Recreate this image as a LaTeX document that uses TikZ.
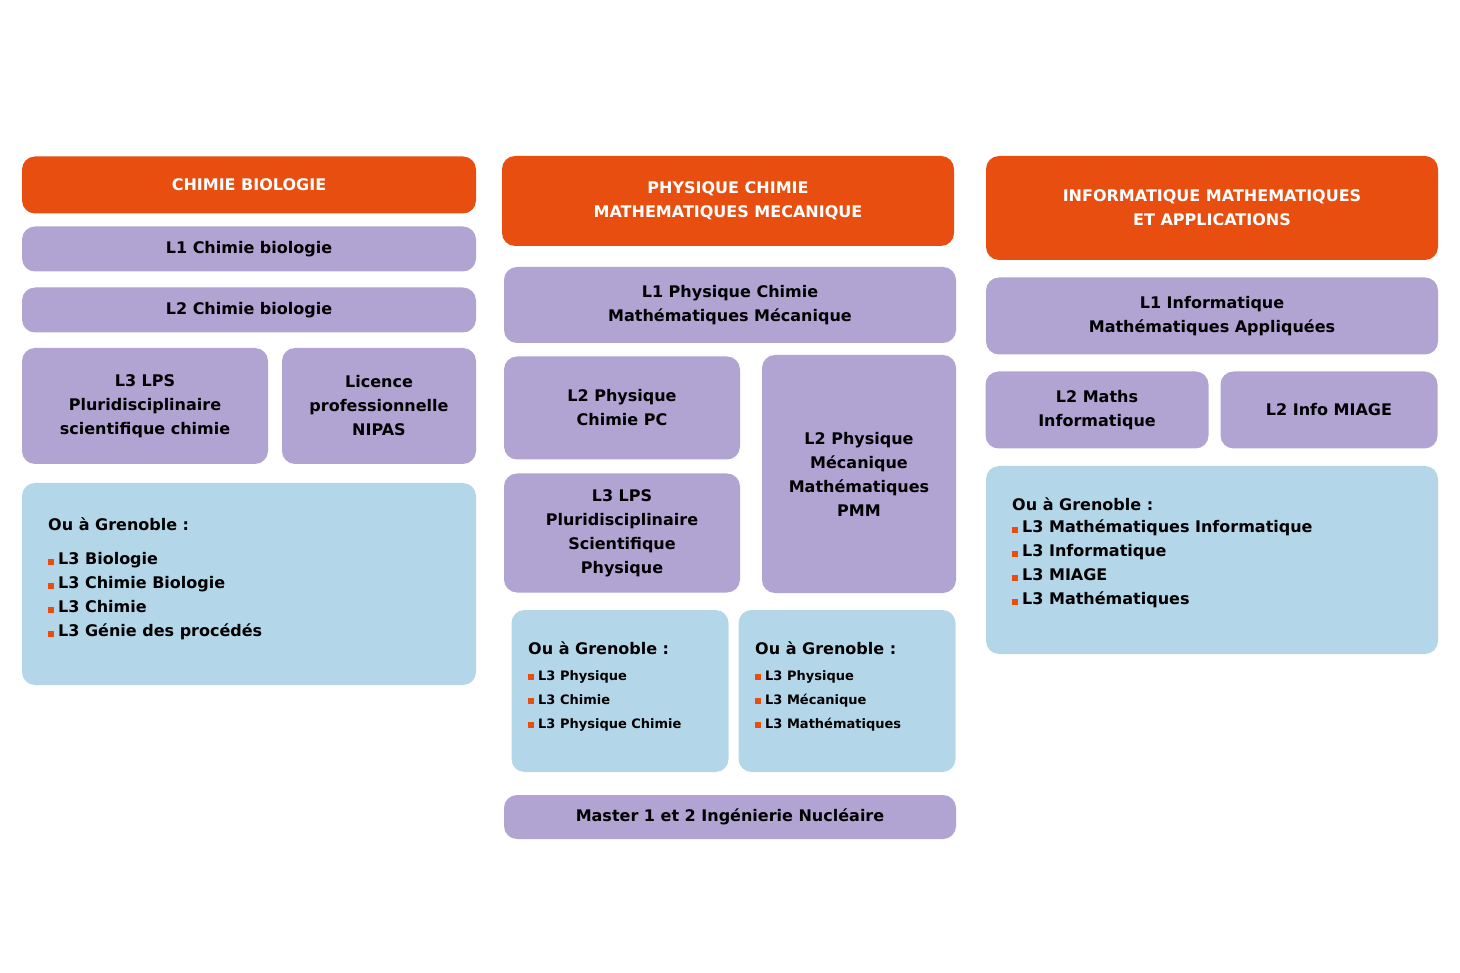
\documentclass[tikz,border=0pt]{standalone}
\usepackage{fontspec}
\setmainfont{DejaVu Sans}
\definecolor{orng}{HTML}{E84E10}
\definecolor{prpl}{HTML}{B1A3D2}
\definecolor{blu}{HTML}{B3D6E8}
\newcommand{\bul}{{\color{orng}\rule{6pt}{6pt}}\hspace{4pt}}
\begin{document}
\begin{tikzpicture}[x=1pt,y=-1pt,font=\bfseries\fontsize{16}{24}\selectfont,
  box/.style={rounded corners=13pt,align=center,inner sep=0pt},
  head/.style={box,fill=orng,text=white},
  lvl/.style={box,fill=prpl,text=black},
  other/.style={box,fill=blu},
  list/.style={anchor=north west,align=left,inner sep=0pt},
  small/.style={list,font=\bfseries\fontsize{13}{24}\selectfont}]
  \useasboundingbox (0,0) rectangle (1460,973);

  % chimie biologie
  \node[head,minimum width=454,minimum height=57] (cb) at (249,185) {CHIMIE BIOLOGIE};
  \node[lvl,minimum width=454,minimum height=45] (cbA) at (249,249) {L1 Chimie biologie};
  \node[lvl,minimum width=454,minimum height=45] (cbB) at (249,310) {L2 Chimie biologie};
  \node[lvl,minimum width=246,minimum height=116] (cbC) at (145,406) {L3 LPS\\Pluridisciplinaire\\scientifique chimie};
  \node[lvl,minimum width=194,minimum height=116] (cbD) at (379,406) {Licence\\professionnelle\\NIPAS};
  \node[other,minimum width=454,minimum height=202] (cbE) at (249,584) {};
  \node[list] (cbL) at (48,518) {Ou à Grenoble :\\[10pt]
    \bul L3 Biologie\\ \bul L3 Chimie Biologie\\ \bul L3 Chimie\\ \bul L3 Génie des procédés};

  % physique chimie
  \node[head,minimum width=452,minimum height=90] (pc) at (728,201) {PHYSIQUE CHIMIE\\MATHEMATIQUES MECANIQUE};
  \node[lvl,minimum width=452,minimum height=76] (pcA) at (730,305) {L1 Physique Chimie\\Mathématiques Mécanique};
  \node[lvl,minimum width=236,minimum height=103] (pcB) at (622,408) {L2 Physique\\Chimie PC};
  \node[lvl,minimum width=194,minimum height=238] (pcC) at (859,474) {L2 Physique\\Mécanique\\Mathématiques\\PMM};
  \node[lvl,minimum width=236,minimum height=119] (pcD) at (622,533) {L3 LPS\\Pluridisciplinaire\\Scientifique\\Physique};
  \node[other,minimum width=217,minimum height=162] (pcE) at (620,691) {};
  \node[other,minimum width=217,minimum height=162] (pcF) at (847,691) {};
  \node[list] (pcL) at (528,642) {Ou à Grenoble :};
  \node[small] (pcM) at (528,670) {\bul L3 Physique\\ \bul L3 Chimie\\ \bul L3 Physique Chimie};
  \node[list] (pcN) at (755,642) {Ou à Grenoble :};
  \node[small] (pcO) at (755,670) {\bul L3 Physique\\ \bul L3 Mécanique\\ \bul L3 Mathématiques};
  \node[lvl,minimum width=452,minimum height=44] (pcG) at (730,817) {Master 1 et 2 Ingénierie Nucléaire};

  % informatique
  \node[head,minimum width=452,minimum height=104] (im) at (1212,208) {INFORMATIQUE MATHEMATIQUES\\ET APPLICATIONS};
  \node[lvl,minimum width=452,minimum height=77] (imA) at (1212,316) {L1 Informatique\\Mathématiques Appliquées};
  \node[lvl,minimum width=223,minimum height=77] (imB) at (1097,410) {L2 Maths\\Informatique};
  \node[lvl,minimum width=217,minimum height=77] (imC) at (1329,410) {L2 Info MIAGE};
  \node[other,minimum width=452,minimum height=188] (imD) at (1212,560) {};
  \node[list] (imL) at (1012,498) {Ou à Grenoble :\\[-2pt]
    \bul L3 Mathématiques Informatique\\ \bul L3 Informatique\\ \bul L3 MIAGE\\ \bul L3 Mathématiques};
\end{tikzpicture}
\end{document}
